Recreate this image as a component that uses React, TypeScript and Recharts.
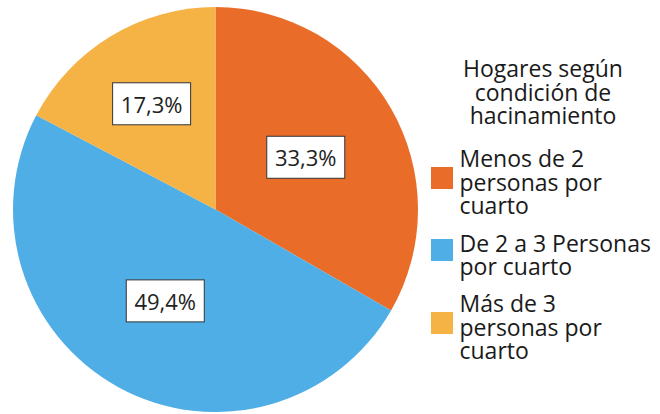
import React from 'react';
import { PieChart, Pie, Cell, Legend } from 'recharts';

const categories = [
  'Menos de 2\npersonas por\ncuarto',
  'De 2 a 3 Personas\npor cuarto',
  'Más de 3\npersonas por\ncuarto',
];
const values = [33.3, 49.4, 17.3];
const colors = ['#E96C28', '#4FAEE5', '#F5B245'];
const legendTitle = 'Hogares según\ncondición de\nhacinamiento';

const data = categories.map((name, i) => ({ name, value: values[i] }));

const FONT = '"Open Sans", sans-serif';
const RADIAN = Math.PI / 180;

function renderLabel(props: any) {
  const { cx, cy, midAngle, outerRadius, value, percent } = props;
  const r = outerRadius * (percent < 0.2 ? 0.61 : 0.515);
  const x = cx + r * Math.cos(-midAngle * RADIAN);
  const y = cy + r * Math.sin(-midAngle * RADIAN);
  const text = Number(value).toFixed(1).replace('.', ',') + '%';
  return (
    <g>
      <rect x={x - 39} y={y - 21} width={78} height={42} fill="#ffffff" stroke="#333333" strokeWidth={1} />
      <text
        x={x}
        y={y}
        textAnchor="middle"
        dominantBaseline="central"
        fontFamily={FONT}
        fontSize={22}
        fill="#222222"
      >
        {text}
      </text>
    </g>
  );
}

function renderLegend() {
  return (
    <div style={{ fontFamily: FONT, fontSize: 23, lineHeight: '23.5px', color: '#1a1a1a' }}>
      <div style={{ textAlign: 'center', whiteSpace: 'pre-line' }}>{legendTitle}</div>
      <div style={{ marginTop: 19.4, paddingLeft: 5 }}>
        {categories.map((name, i) => (
          <div
            key={name}
            style={{ display: 'flex', alignItems: 'center', marginTop: i === 0 ? 0 : 13.75 }}
          >
            <div
              style={{
                width: 22,
                height: 22,
                background: colors[i],
                marginRight: 6.5,
                flex: '0 0 auto',
                transform: 'translateY(-5px)',
              }}
            />
            <div style={{ whiteSpace: 'pre', textAlign: 'left' }}>{name}</div>
          </div>
        ))}
      </div>
    </div>
  );
}

export default function App() {
  return (
    <div style={{ position: 'absolute', left: 0, top: 0, width: 660, height: 414, overflow: 'hidden', background: '#fff' }}>
      <PieChart width={660} height={414} margin={{ top: 0, right: 0, bottom: 0, left: 0 }}>
        <Pie
          data={data}
          dataKey="value"
          nameKey="name"
          cx={215.5}
          cy={209.5}
          outerRadius={202.5}
          startAngle={90}
          endAngle={-270}
          stroke="none"
          labelLine={false}
          label={renderLabel}
          isAnimationActive={false}
        >
          {data.map((d, i) => (
            <Cell key={d.name} fill={colors[i]} />
          ))}
        </Pie>
        <Legend
          layout="vertical"
          align="right"
          verticalAlign="top"
          content={renderLegend}
          wrapperStyle={{ position: 'absolute', left: 426, top: 57.4, width: 234, right: 'auto', bottom: 'auto' }}
        />
      </PieChart>
    </div>
  );
}
